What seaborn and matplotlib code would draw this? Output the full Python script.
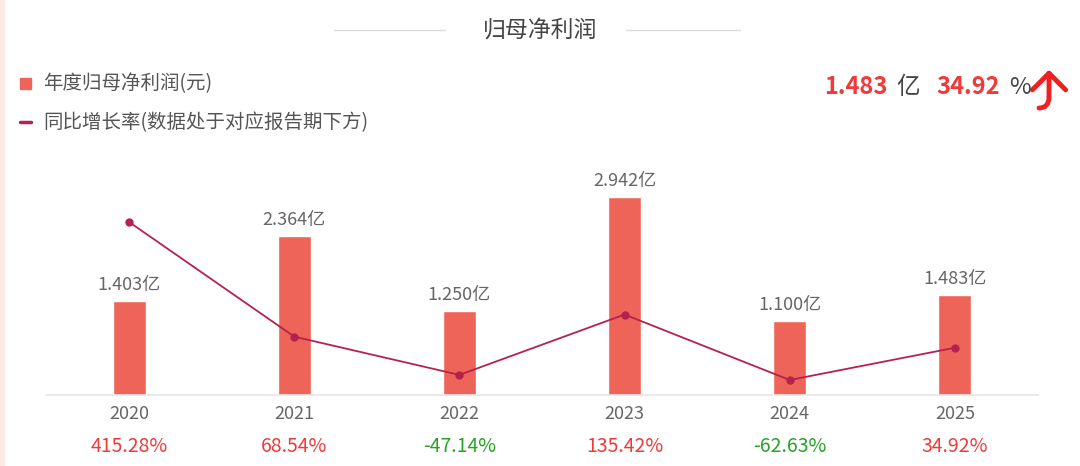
import numpy as np
import pandas as pd
import seaborn as sns
import matplotlib.pyplot as plt
from matplotlib.patches import Rectangle, FancyArrowPatch, PathPatch
from matplotlib.path import Path
from matplotlib.lines import Line2D

years = ['2020', '2021', '2022', '2023', '2024', '2025']
profit = [1.403, 2.364, 1.250, 2.942, 1.100, 1.483]  # 亿元
growth = [415.28, 68.54, -47.14, 135.42, -62.63, 34.92]  # %

bar_color = '#EE6458'
line_color = '#B52250'
red = '#F03A3A'
green = '#27A327'
grey = '#666666'

sns.set_theme(style='white')
plt.rcParams['font.family'] = ['Noto Sans CJK SC', 'DejaVu Sans']

W, H = 1080, 466
fig = plt.figure(figsize=(W / 100, H / 100), dpi=100)

# axes placed in pixel coordinates (baseline y=395, top y=150)
x0, x1 = 46.5, 1037.5
yb, yt = 395, 150
ax = fig.add_axes([x0 / W, 1 - yb / H, (x1 - x0) / W, (yb - yt) / H])

df = pd.DataFrame({'year': years, 'profit': profit, 'growth': growth})
sns.barplot(data=df, x='year', y='profit', color=bar_color, width=0.2,
            saturation=1, ax=ax)
ax.set_xlim(-0.5, 5.5)
ax.set_ylim(0, 245 / 67.3)

ax2 = ax.twinx()
df['pos'] = np.arange(len(years))
sns.lineplot(data=df, x='pos', y='growth', color=line_color, linewidth=1.3,
             marker='o', markersize=6, markeredgewidth=0, ax=ax2)
ax2.set_ylim(-108.0, 633.1)

for a in (ax, ax2):
    a.set_xlabel('')
    a.set_ylabel('')
    a.set_yticks([])
    for s in ['top', 'left', 'right']:
        a.spines[s].set_visible(False)
    a.set_facecolor('none')
ax.spines['bottom'].set_color('#E6E6E6')
ax.spines['bottom'].set_linewidth(1.2)
ax2.spines['bottom'].set_visible(False)
ax.set_xticks([])
ax2.set_xticks([])

# value labels above bars
for i, v in enumerate(profit):
    ax.annotate(f'{v:.3f}亿', (i, v), xytext=(0, 5), textcoords='offset points',
                ha='center', va='bottom', fontsize=13, color=grey)

# year and growth rows under the axis
trans = ax.get_xaxis_transform()
for i, (y, g) in enumerate(zip(years, growth)):
    ax.text(i, (yb - 414) / (yb - yt), y, transform=trans, ha='center',
            va='center', fontsize=13, color=grey)
    ax.text(i, (yb - 446) / (yb - yt), f'{g:.2f}%', transform=trans,
            ha='center', va='center', fontsize=14,
            color=red if g >= 0 else green)

# title with side rules
fig.text(540 / W, 1 - 30 / H, '归母净利润', ha='center', va='center',
         fontsize=16.5, color='#444444')
fig.add_artist(Line2D([334 / W, 445 / W], [1 - 30 / H] * 2, color='#DDDDDD', lw=1))
fig.add_artist(Line2D([626 / W, 740 / W], [1 - 30 / H] * 2, color='#DDDDDD', lw=1))

# legend
fig.add_artist(Rectangle((20 / W, 1 - 89 / H), 11 / W, 11 / H, color=bar_color,
                         transform=fig.transFigure))
fig.text(43 / W, 1 - 84 / H, '年度归母净利润(元)', ha='left', va='center',
         fontsize=14, color='#555555')
fig.add_artist(Line2D([20 / W, 31 / W], [1 - 122 / H] * 2, color=line_color, lw=2.5))
fig.text(43 / W, 1 - 123 / H, '同比增长率(数据处于对应报告期下方)', ha='left',
         va='center', fontsize=14, color='#555555')

# latest value indicator top-right
yr = 1 - 87 / H
fig.text(824 / W, yr, '1.483', ha='left', va='center', fontsize=17,
         fontweight='bold', color=red)
fig.text(896 / W, yr, '亿', ha='left', va='center', fontsize=17, color='#444444')
fig.text(936 / W, yr, '34.92', ha='left', va='center', fontsize=17,
         fontweight='bold', color=red)
fig.text(1009 / W, yr, '%', ha='left', va='center', fontsize=17, color='#444444')

arrow_red = '#F02020'
fig.add_artist(FancyArrowPatch((1049 / W, 1 - 99 / H), (1049 / W, 1 - 67 / H),
                               transform=fig.transFigure,
                               arrowstyle='->,head_length=0.4,head_width=0.4',
                               mutation_scale=30, lw=3.5, color=arrow_red))
hook = Path([(1049 / W, 1 - 97 / H), (1049 / W, 1 - 108 / H), (1039 / W, 1 - 108 / H)],
            [Path.MOVETO, Path.CURVE3, Path.CURVE3])
fig.add_artist(PathPatch(hook, transform=fig.transFigure, fill=False,
                         edgecolor=arrow_red, lw=3.5, capstyle='round'))

# faint left edge band
fig.add_artist(Rectangle((0, 0), 4 / W, 1, color='#FDE9E4',
                         transform=fig.transFigure))

fig.savefig('out.png', dpi=100)
